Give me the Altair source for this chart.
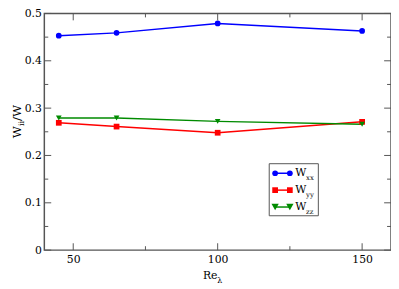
import altair as alt
import pandas as pd

# ---- data ----
re_lambda = [45, 65, 100, 150]
w_xx = [0.453, 0.459, 0.479, 0.463]
w_yy = [0.269, 0.261, 0.248, 0.271]
w_zz = [0.279, 0.279, 0.272, 0.266]
series_names = ["xx", "yy", "zz"]
series_colors = ["#0000ff", "#ff0000", "#008b00"]
series_shapes = ["circle", "square", "triangle-down"]
series_sizes = [34, 34, 55]

x_major = [50, 100, 150]
x_minor = [75, 125]
y_major = [0, 0.1, 0.2, 0.3, 0.4, 0.5]
y_minor = [0.05, 0.15, 0.25, 0.35, 0.45]

W, H = 353, 241
FONT = "DejaVu Serif"
FRAME = "#555555"

rows = []
for name, vals in zip(series_names, [w_xx, w_yy, w_zz]):
    for r, v in zip(re_lambda, vals):
        rows.append({"Re": r, "val": v, "series": name})
df = pd.DataFrame(rows)

xs = alt.Scale(domain=[40, 160], nice=False, zero=False)
ys = alt.Scale(domain=[0, 0.5], nice=False)
cs = alt.Scale(domain=series_names, range=series_colors)
ss = alt.Scale(domain=series_names, range=series_shapes)
zs = alt.Scale(domain=series_names, range=series_sizes)

x_axis = alt.Axis(values=x_major, ticks=False, tickSize=0, domain=False, grid=False,
                  labelFont=FONT, labelFontSize=11, labelColor="black", labelPadding=4,
                  title=None)
y_axis = alt.Axis(values=y_major, ticks=False, tickSize=0, domain=False, grid=False,
                  labelFont=FONT, labelFontSize=11, labelColor="black", labelPadding=3,
                  labelExpr="datum.value == 0 ? '0' : format(datum.value, '.1f')",
                  title=None)

base = alt.Chart(df)
lines = base.mark_line(strokeWidth=1.5).encode(
    x=alt.X("Re:Q", scale=xs, axis=x_axis),
    y=alt.Y("val:Q", scale=ys, axis=y_axis),
    color=alt.Color("series:N", scale=cs, legend=None),
    detail="series:N",
    order=alt.Order("Re:Q"),
)
points = base.mark_point(filled=True, opacity=1).encode(
    x=alt.X("Re:Q", scale=xs),
    y=alt.Y("val:Q", scale=ys),
    color=alt.Color("series:N", scale=cs, legend=None),
    shape=alt.Shape("series:N", scale=ss, legend=None),
    size=alt.Size("series:N", scale=zs, legend=None),
)

# ---- inward ticks ----
def xticks(vals, length):
    d = pd.DataFrame({"t": vals})
    bot = alt.Chart(d).mark_rule(color=FRAME, strokeWidth=1).encode(
        x=alt.X("t:Q", scale=xs), y=alt.value(H), y2=alt.value(H - length))
    top = alt.Chart(d).mark_rule(color=FRAME, strokeWidth=1).encode(
        x=alt.X("t:Q", scale=xs), y=alt.value(0), y2=alt.value(length))
    return [bot, top]

def yticks(vals, length):
    d = pd.DataFrame({"t": vals})
    left = alt.Chart(d).mark_rule(color=FRAME, strokeWidth=1).encode(
        y=alt.Y("t:Q", scale=ys), x=alt.value(0), x2=alt.value(length))
    right = alt.Chart(d).mark_rule(color=FRAME, strokeWidth=1).encode(
        y=alt.Y("t:Q", scale=ys), x=alt.value(W), x2=alt.value(W - length))
    return [left, right]

ticks = xticks(x_major, 7) + xticks(x_minor, 4) + yticks(y_major, 7) + yticks(y_minor, 4)

one = pd.DataFrame({"a": [0]})

def txt(text, x, y, size, angle=0, align="left"):
    return alt.Chart(one).mark_text(text=text, font=FONT, fontSize=size, color="black",
                                    align=align, baseline="alphabetic", angle=angle).encode(
        x=alt.value(x), y=alt.value(y))

# ---- axis titles ----
titles = [
    txt("Re", 161.5, 270, 11),
    txt("λ", 176, 274, 8),
    txt("W", -24, 127, 12, angle=270),
    txt("ii", -20.5, 114.6, 8, angle=270),
    txt("/W", -24, 109.5, 12, angle=270),
]

# ---- legend ----
legend_layers = [
    alt.Chart(one).mark_rect(fill="white", stroke=FRAME, strokeWidth=1).encode(
        x=alt.value(229), x2=alt.value(279), y=alt.value(153), y2=alt.value(206))
]
for i, (name, col, shp, sz) in enumerate(zip(series_names, series_colors, series_shapes, series_sizes)):
    yy = 162.7 + i * 17.2
    legend_layers.append(alt.Chart(one).mark_rule(color=col, strokeWidth=1.5).encode(
        x=alt.value(235), x2=alt.value(250), y=alt.value(yy)))
    for xx in (235, 250):
        legend_layers.append(alt.Chart(one).mark_point(filled=True, size=sz, opacity=1,
                                                       color=col, shape=shp).encode(
            x=alt.value(xx), y=alt.value(yy)))
    legend_layers.append(txt("W", 255.5, yy + 3, 11))
    legend_layers.append(txt(name, 266.5, yy + 7, 7))

chart = alt.layer(lines, points, *ticks, *titles, *legend_layers).properties(
    width=W, height=H,
    autosize=alt.AutoSizeParams(type="none"),
    padding={"left": 37, "top": 3, "right": 0, "bottom": 36},
).configure_view(stroke=FRAME, strokeWidth=1.5)

chart.save("out.html", embed_options={"renderer": "svg", "actions": False})
